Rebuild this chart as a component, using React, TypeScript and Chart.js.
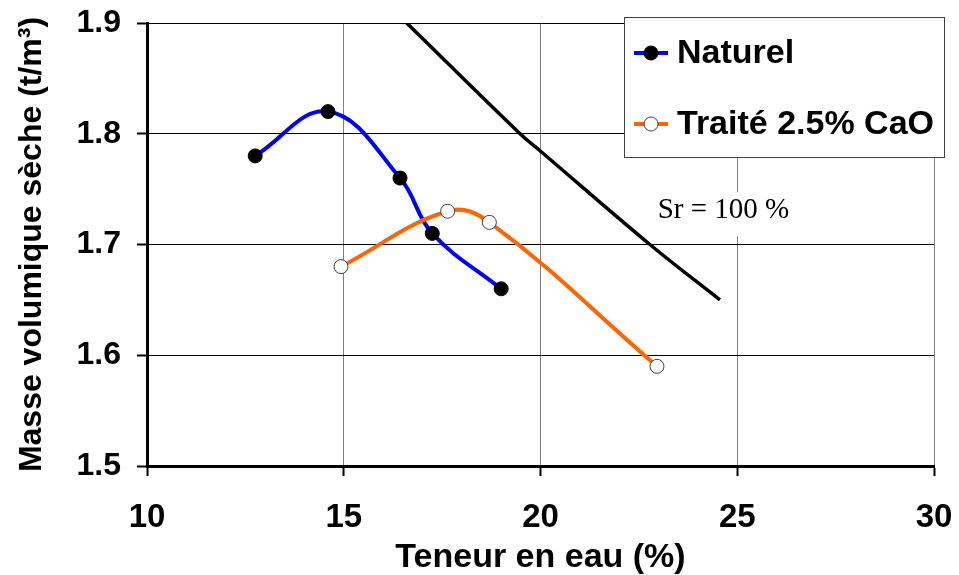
import React, { useEffect, useRef } from "react";
import { Chart, registerables } from "chart.js";

Chart.register(...registerables);

const naturelX = [12.75, 14.6, 16.43, 17.25, 19.0];
const naturelY = [1.78, 1.82, 1.76, 1.71, 1.66];
const traiteX = [14.93, 17.64, 18.7, 22.96];
const traiteY = [1.68, 1.73, 1.72, 1.59];
const srX = [16.6, 19.48, 20.01, 22.78, 24.56];
const srY = [1.9, 1.8, 1.784, 1.7, 1.65];

const seriesNames = ["Naturel", "Traité 2.5% CaO"];
const srLabel = "Sr = 100 %";
const srLabelPos = { x: 24.65, y: 1.731 };
const xTitle = "Teneur en eau (%)";
const yTitle = "Masse volumique sèche (t/m³)";

const SANS = "'Liberation Sans', Arial, sans-serif";
const SERIF = "'Liberation Serif', 'Times New Roman', serif";

const toPts = (xs: number[], ys: number[]) => xs.map((x, i) => ({ x, y: ys[i] }));

const extrasPlugin = {
  id: "extras",
  afterDatasetsDraw(chart: any) {
    const { ctx, chartArea, scales } = chart;
    const cx = scales.x.getPixelForValue(srLabelPos.x);
    const cy = scales.y.getPixelForValue(srLabelPos.y);
    ctx.save();
    ctx.font = `29px ${SERIF}`;
    const w = ctx.measureText(srLabel).width;
    ctx.fillStyle = "#fff";
    ctx.fillRect(cx - w / 2 - 8, cy - 18, w + 16, 44);
    ctx.fillStyle = "#000";
    ctx.textAlign = "center";
    ctx.textBaseline = "middle";
    ctx.fillText(srLabel, cx, cy);
    ctx.restore();

    const lx = chartArea.right - 310;
    const ly = chartArea.top - 6;
    const lw = 320;
    const lh = 140;
    ctx.save();
    ctx.fillStyle = "#fff";
    ctx.fillRect(lx, ly, lw, lh);
    ctx.strokeStyle = "#404040";
    ctx.lineWidth = 1;
    ctx.strokeRect(lx + 0.5, ly + 0.5, lw, lh);
    const ds = chart.data.datasets;
    const rows = [ds[1], ds[2]];
    rows.forEach((d: any, i: number) => {
      const y = ly + 36 + i * 71;
      ctx.strokeStyle = d.borderColor;
      ctx.lineWidth = 4;
      ctx.beginPath();
      ctx.moveTo(lx + 10, y);
      ctx.lineTo(lx + 44, y);
      ctx.stroke();
      ctx.beginPath();
      ctx.arc(lx + 27, y, 7, 0, Math.PI * 2);
      ctx.fillStyle = d.pointBackgroundColor;
      ctx.fill();
      ctx.lineWidth = 1;
      ctx.strokeStyle = d.pointBorderColor;
      ctx.stroke();
      ctx.fillStyle = "#000";
      ctx.font = `bold 34px ${SANS}`;
      ctx.textAlign = "left";
      ctx.textBaseline = "middle";
      ctx.fillText(d.label, lx + 53, y + 1);
    });
    ctx.restore();
  },
};

export default function App() {
  const ref = useRef<HTMLCanvasElement | null>(null);
  useEffect(() => {
    if (!ref.current) return;
    const chart = new Chart(ref.current, {
      type: "scatter",
      data: {
        datasets: [
          {
            label: "Sr",
            data: toPts(srX, srY),
            showLine: true,
            borderColor: "#000",
            borderWidth: 3.5,
            pointRadius: 0,
            tension: 0.4,
            order: 3,
          },
          {
            label: seriesNames[0],
            data: toPts(naturelX, naturelY),
            showLine: true,
            borderColor: "#0000ff",
            borderWidth: 4,
            pointRadius: 7,
            pointBackgroundColor: "#000",
            pointBorderColor: "#000",
            pointBorderWidth: 1,
            tension: 0.4,
            order: 2,
          },
          {
            label: seriesNames[1],
            data: toPts(traiteX, traiteY),
            showLine: true,
            borderColor: "#ff6600",
            borderWidth: 4,
            pointRadius: 7,
            pointBackgroundColor: "#fff",
            pointBorderColor: "#404040",
            pointBorderWidth: 1,
            tension: 0.4,
            order: 1,
          },
        ],
      },
      options: {
        responsive: false,
        animation: false,
        layout: { padding: { top: 23, right: 25, left: 0, bottom: 0 } },
        plugins: { legend: { display: false }, tooltip: { enabled: false } },
        scales: {
          x: {
            type: "linear",
            min: 10,
            max: 30,
            afterFit: (s: any) => {
              s.height = 109;
              s.paddingLeft = 0;
              s.paddingRight = 0;
            },
            ticks: {
              stepSize: 5,
              padding: 22,
              color: "#000",
              font: { family: SANS, size: 33, weight: "bold" },
            },
            grid: { color: "#808080", lineWidth: 1, tickLength: 10, tickColor: "#000", tickWidth: 2 },
            border: { color: "#000", width: 3 },
            title: {
              display: true,
              text: xTitle,
              color: "#000",
              font: { family: SANS, size: 34, weight: "bold" },
              padding: { top: 0, bottom: -3 },
            },
          },
          y: {
            type: "linear",
            min: 1.5,
            max: 1.9,
            afterFit: (s: any) => {
              s.width = 147;
              s.paddingTop = 0;
              s.paddingBottom = 0;
            },
            ticks: {
              stepSize: 0.1,
              padding: 16,
              color: "#000",
              font: { family: SANS, size: 32, weight: "bold" },
              callback: (v: any) => Number(v).toFixed(1),
            },
            grid: { color: "#000", lineWidth: 1, tickLength: 10, tickColor: "#000", tickWidth: 2 },
            border: { color: "#000", width: 3 },
            title: {
              display: true,
              text: yTitle,
              color: "#000",
              font: { family: SANS, size: 32, weight: "bold" },
              padding: { top: 13, bottom: 0 },
            },
          },
        },
      },
      plugins: [extrasPlugin],
    } as any);
    return () => chart.destroy();
  }, []);
  return (
    <div style={{ position: "absolute", left: 0, top: 0, width: 959, height: 575, background: "#fff" }}>
      <canvas ref={ref} width={959} height={575} style={{ display: "block" }} />
    </div>
  );
}
